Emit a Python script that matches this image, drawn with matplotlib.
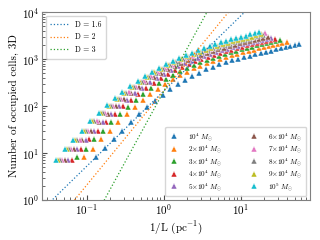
import numpy as np
import matplotlib
matplotlib.use("Agg")
import matplotlib.pyplot as plt

plt.rcParams['font.family'] = 'serif'
plt.rcParams['font.serif'] = ['cmr10', 'DejaVu Serif']
plt.rcParams['mathtext.fontset'] = 'cm'
plt.rcParams['axes.formatter.use_mathtext'] = True

# cells per cloud side used for the box counting (shared by all clouds)
cells_per_side = [1.0, 1.30, 1.69, 2.18, 2.81, 3.59, 4.57, 5.79, 7.31, 9.18,
                  11.5, 14.3, 17.7, 21.8, 26.8, 32.7, 39.8, 48.2, 58.1, 69.7,
                  83.2, 98.9, 117, 138, 161, 188, 219, 253, 291, 333, 380, 431]

# cloud size (pc) for each mass
cloud_size = [7.6, 11.0, 13.5, 15.7, 17.6, 19.4, 21.0, 22.5, 23.9, 25.3]

labels = [r'$10^4\ M_{\odot}$', r'$2{\times}10^4\ M_{\odot}$', r'$3{\times}10^4\ M_{\odot}$',
          r'$4{\times}10^4\ M_{\odot}$', r'$5{\times}10^4\ M_{\odot}$', r'$6{\times}10^4\ M_{\odot}$',
          r'$7{\times}10^4\ M_{\odot}$', r'$8{\times}10^4\ M_{\odot}$', r'$9{\times}10^4\ M_{\odot}$',
          r'$10^5\ M_{\odot}$']

n_1e4 = [8, 13, 20, 30, 45, 66, 94, 129, 173, 225, 287, 356, 432, 514, 598, 684,
         769, 855, 938, 1019, 1099, 1180, 1262, 1346, 1429, 1514, 1600, 1687, 1774, 1862, 1950, 2037]
n_2e4 = [8, 12, 20, 30, 46, 67, 95, 132, 177, 232, 297, 371, 452, 539, 631, 725,
         820, 917, 1012, 1106, 1201, 1297, 1394, 1494, 1590, 1689, 1789, 1889, 1990, 2093, 2195, 2296]
n_3e4 = [8, 12, 20, 30, 46, 68, 97, 134, 181, 237, 305, 382, 467, 559, 657, 758,
         861, 967, 1071, 1176, 1283, 1392, 1502, 1616, 1723, 1834, 1945, 2057, 2168, 2285, 2399, 2512]
n_4e4 = [7, 12, 20, 30, 46, 68, 98, 136, 183, 241, 310, 389, 477, 573, 674, 780,
         889, 1001, 1112, 1226, 1341, 1459, 1579, 1703, 1817, 1937, 2056, 2177, 2296, 2423, 2545, 2667]
n_5e4 = [7, 12, 19, 30, 46, 69, 99, 137, 186, 244, 316, 397, 488, 586, 692, 803,
         918, 1037, 1155, 1277, 1402, 1530, 1659, 1794, 1917, 2046, 2174, 2304, 2432, 2568, 2700, 2831]
n_6e4 = [7, 12, 19, 30, 46, 69, 100, 139, 188, 248, 321, 405, 499, 601, 711, 827,
         949, 1074, 1200, 1330, 1465, 1604, 1744, 1891, 2022, 2162, 2298, 2437, 2573, 2723, 2865, 3006]
n_7e4 = [7, 12, 19, 30, 47, 70, 102, 143, 195, 257, 335, 425, 527, 638, 759, 890,
         1028, 1172, 1320, 1473, 1636, 1805, 1975, 2155, 2311, 2479, 2642, 2808, 2972, 3150, 3322, 3491]
n_8e4 = [7, 12, 19, 30, 47, 70, 101, 141, 191, 251, 327, 413, 510, 616, 729, 852,
         980, 1112, 1247, 1386, 1531, 1681, 1832, 1992, 2133, 2284, 2430, 2580, 2727, 2887, 3040, 3192]
n_9e4 = [7, 12, 19, 30, 47, 70, 101, 142, 193, 254, 331, 419, 517, 627, 744, 869,
         1002, 1139, 1280, 1426, 1579, 1738, 1897, 2066, 2215, 2373, 2527, 2685, 2839, 3008, 3168, 3328]
n_1e5 = [7, 12, 19, 30, 47, 71, 103, 145, 197, 261, 341, 434, 538, 653, 780, 916,
         1062, 1213, 1371, 1535, 1710, 1892, 2075, 2270, 2438, 2618, 2793, 2972, 3148, 3342, 3524, 3707]

counts = [n_1e4, n_2e4, n_3e4, n_4e4, n_5e4, n_6e4, n_7e4, n_8e4, n_9e4, n_1e5]

dims = [1.6, 2, 3]
norm = 210.0

colors = plt.rcParams['axes.prop_cycle'].by_key()['color']

fig = plt.figure(figsize=(3.2, 2.4), dpi=100)
ax = fig.add_axes([0.131, 0.167, 0.838, 0.783])

marks = []
for i in range(len(counts)):
    x = np.array(cells_per_side) / cloud_size[i]
    h, = ax.plot(x, counts[i], ls='none', marker='^', ms=4.6, mew=0.3, mec='white',
                 color=colors[i], label=labels[i])
    marks.append(h)

xl = np.logspace(-2, 2.5, 100)
lines = []
for j, d in enumerate(dims):
    h, = ax.plot(xl, norm * xl ** d, ls=':', lw=0.9, color=colors[j],
                 label='D = %g' % d)
    lines.append(h)

ax.set_xscale('log')
ax.set_yscale('log')
ax.set_xlim(0.026, 79)
ax.set_ylim(1, 1e4)
ax.set_xlabel(r'1/L (pc$^{-1}$)', fontsize=8, labelpad=1)
ax.set_ylabel('Number of occupied cells, 3D', fontsize=8, labelpad=2)
ax.tick_params(which='both', direction='in', labelsize=8, color='0.3', pad=2)
for s in ax.spines.values():
    s.set_color('0.5')

leg1 = ax.legend(handles=lines, loc='upper left', fontsize=5.5, handlelength=2.4,
                 borderpad=0.6, labelspacing=0.55)
ax.add_artist(leg1)
ax.legend(handles=marks, loc='lower right', ncol=2, fontsize=5.2, handlelength=1.5,
          columnspacing=3.6, borderpad=0.5, labelspacing=0.08, handletextpad=1.2,
          markerscale=0.8)

fig.savefig('out.png', dpi=100)
